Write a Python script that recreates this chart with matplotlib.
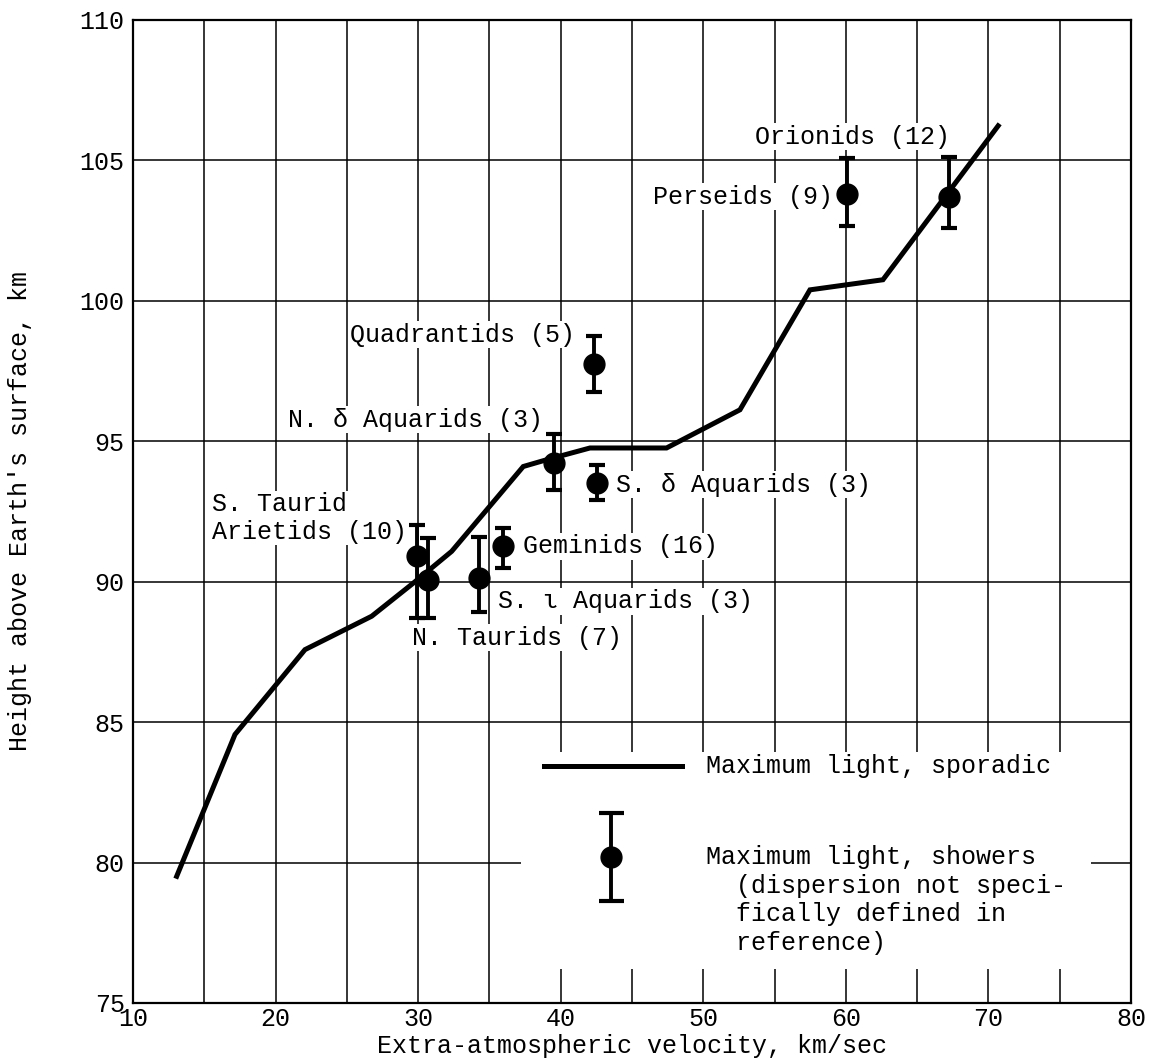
import numpy as np
import matplotlib
matplotlib.use("Agg")
import matplotlib.pyplot as plt
from matplotlib.patches import Rectangle

plt.rcParams['font.family'] = ['Liberation Mono', 'DejaVu Sans Mono']
plt.rcParams['font.size'] = 18

# maximum light, sporadic meteors
spor_vel = [13.06, 17.15, 22.06, 26.74, 29.66, 32.35, 37.37, 39.0, 42.05, 47.42, 52.57, 57.48, 62.6, 70.68]
spor_h = [79.51, 84.56, 87.58, 88.77, 89.95, 91.08, 94.10, 94.34, 94.76, 94.76, 96.12, 100.39, 100.75, 106.23]

# maximum light, showers (center, top and bottom of the bar)
shower_names = ["Perseids", "Orionids", "Quadrantids", "N. d Aquarids", "S. d Aquarids",
                "Geminids", "S. i Aquarids", "N. Taurids", "S. Taurid Arietids"]
shower_vel = [60.1, 67.2, 42.34, 39.54, 42.51, 35.96, 34.29, 30.71, 29.94]
shower_h = [103.80, 103.71, 97.75, 94.22, 93.53, 91.26, 90.13, 90.07, 90.90]
shower_top = [105.08, 105.11, 98.75, 95.26, 94.16, 91.91, 91.59, 91.56, 92.0]
shower_bot = [102.67, 102.59, 96.77, 93.27, 92.92, 90.49, 88.91, 88.71, 88.7]

# labels: text, x, y, alignment
labels = [
    ("Orionids (12)", 60.45, 105.85, "center"),
    ("Perseids (9)", 59.1, 103.71, "right"),
    ("Quadrantids (5)", 41.0, 98.79, "right"),
    ("N. δ Aquarids (3)", 38.77, 95.77, "right"),
    ("S. δ Aquarids (3)", 43.87, 93.45, "left"),
    ("Geminids (16)", 37.33, 91.26, "left"),
    ("S. ι Aquarids (3)", 35.62, 89.30, "left"),
    ("N. Taurids (7)", 29.54, 88.0, "left"),
    ("S. Taurid\nArietids (10)", 15.51, 92.27, "left"),
]

fig = plt.figure(figsize=(11.58, 10.61), dpi=100)
ax = fig.add_axes([0.1149, 0.0547, 0.8618, 0.9265])

ax.set_xlim(10, 80)
ax.set_ylim(75, 110)
ax.set_xticks(np.arange(10, 81, 10))
ax.set_yticks(np.arange(75, 111, 5))
ax.set_xticks(np.arange(15, 80, 10), minor=True)
ax.tick_params(which='both', length=0, labelsize=18)
ax.tick_params(axis='x', pad=3)
ax.tick_params(axis='y', pad=6)
ax.grid(True, which='both', color='black', linewidth=1.1, zorder=0)
ax.set_axisbelow(True)
for s in ax.spines.values():
    s.set_linewidth(1.6)

# white area behind the key
ax.add_patch(Rectangle((0.3886, 0.0346), 0.5715, 0.2207, transform=ax.transAxes,
                       facecolor='white', edgecolor='none', zorder=1))

ax.plot(spor_vel, spor_h, color='black', lw=3.6, solid_joinstyle='miter', zorder=3)

yerr = [np.array(shower_h) - np.array(shower_bot), np.array(shower_top) - np.array(shower_h)]
ax.errorbar(shower_vel, shower_h, yerr=yerr, fmt='o', color='black', ms=15,
            elinewidth=2.8, capsize=5.5, capthick=3, zorder=4)

for txt, x, y, ha in labels:
    ax.text(x, y, txt, ha=ha, va='center', fontsize=18, linespacing=1.2, zorder=2,
            bbox=dict(facecolor='white', edgecolor='none', pad=1))

# key
ax.plot([0.4113, 0.5496], [0.2411, 0.2411], transform=ax.transAxes,
        color='black', lw=3.6, zorder=3)
ax.text(0.574, 0.2411, "Maximum light, sporadic", transform=ax.transAxes,
        ha='left', va='center', fontsize=18, zorder=3)
ax.errorbar([0.479], [0.1482], yerr=[[0.0444], [0.0454]], transform=ax.transAxes,
            fmt='o', color='black', ms=15, elinewidth=2.8, capsize=9, capthick=3,
            zorder=4, clip_on=False)
ax.text(0.574, 0.1607, "Maximum light, showers\n  (dispersion not speci-\n  fically defined in\n  reference)",
        transform=ax.transAxes, ha='left', va='top', fontsize=18, linespacing=1.25,
        zorder=3)

ax.set_xlabel("Extra-atmospheric velocity, km/sec", fontsize=18, labelpad=2)
ax.set_ylabel("Height above Earth's surface, km", fontsize=18, labelpad=34)

fig.savefig("out.png", dpi=100)
